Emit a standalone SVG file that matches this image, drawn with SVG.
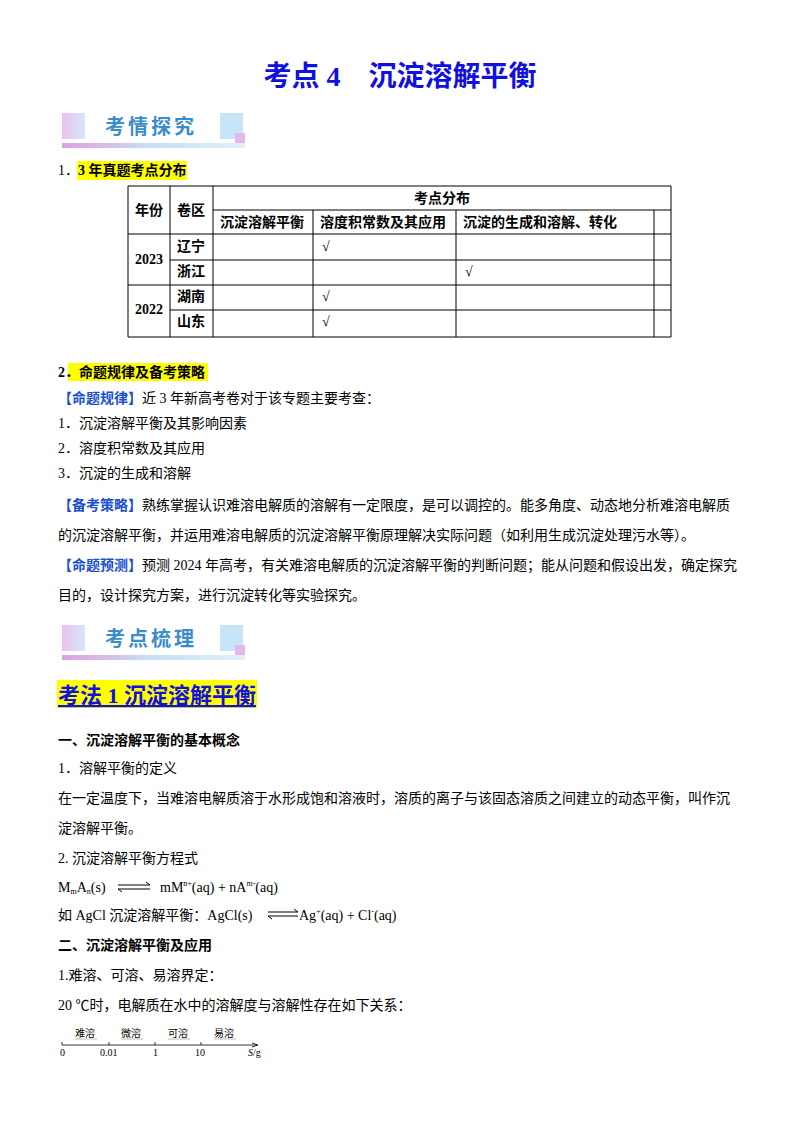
<svg xmlns="http://www.w3.org/2000/svg" width="800" height="1132" viewBox="0 0 800 1132">
<style>
text{font-family:"Liberation Serif","Noto Sans CJK SC",serif;font-size:14px;fill:#000}
.b{font-weight:bold}
.k{font-weight:bold;fill:#1a4fd0}
.tl line{stroke:#000;stroke-width:1}
.ban{font-family:"Noto Sans CJK SC",sans-serif;font-weight:bold;font-size:20px;fill:#3a8dc8;letter-spacing:3px}
</style>
<defs>
<linearGradient id="g1" x1="0" x2="1"><stop offset="0" stop-color="#e8b0e8"/><stop offset="1" stop-color="#c8e4f8"/></linearGradient>
<linearGradient id="g2" x1="0" x2="1"><stop offset="0" stop-color="#e0a0e0"/><stop offset="0.5" stop-color="#c8e0f4"/><stop offset="1" stop-color="#e0f0fa"/></linearGradient>
<g id="banner">
<rect x="0" y="0" width="23" height="26" fill="url(#g1)" opacity="0.8"/>
<rect x="158" y="0" width="23" height="26" fill="#c8e4f8"/>
<rect x="173" y="20" width="10" height="10" fill="#e8b8ec"/>
<rect x="0" y="30" width="183" height="5" fill="url(#g2)"/>
</g>
</defs>
<text x="400" y="86" text-anchor="middle" class="b" style="font-size:28px;fill:#1010e0">考点 4　沉淀溶解平衡</text>
<use href="#banner" x="62" y="113"/>
<text x="105" y="134" class="ban">考情探究</text>
<text x="58" y="175">1．</text>
<rect x="77" y="161" width="110" height="19" fill="#ffff00"/>
<text x="78" y="175" class="b">3 年真题考点分布</text>
<g class="tl">
<line x1="128" y1="186" x2="671" y2="186"/><line x1="213" y1="210" x2="671" y2="210"/>
<line x1="128" y1="234" x2="671" y2="234"/><line x1="170" y1="260" x2="671" y2="260"/>
<line x1="128" y1="285" x2="671" y2="285"/><line x1="170" y1="310" x2="671" y2="310"/>
<line x1="128" y1="337" x2="671" y2="337"/>
<line x1="128" y1="186" x2="128" y2="337"/><line x1="170" y1="186" x2="170" y2="337"/>
<line x1="213" y1="186" x2="213" y2="337"/><line x1="313" y1="210" x2="313" y2="337"/>
<line x1="456" y1="210" x2="456" y2="337"/><line x1="654" y1="210" x2="654" y2="337"/>
<line x1="671" y1="186" x2="671" y2="337"/>
</g>
<g>
<text x="135" y="215" class="b">年份</text><text x="177" y="215" class="b">卷区</text>
<text x="442" y="203" text-anchor="middle" class="b">考点分布</text>
<text x="220" y="227" class="b">沉淀溶解平衡</text><text x="320" y="227" class="b">溶度积常数及其应用</text><text x="463" y="227" class="b">沉淀的生成和溶解、转化</text>
<text x="135" y="264" class="b">2023</text><text x="135" y="314" class="b">2022</text>
<text x="177" y="251" class="b">辽宁</text><text x="177" y="276" class="b">浙江</text><text x="177" y="301" class="b">湖南</text><text x="177" y="326" class="b">山东</text>
<text x="322" y="251" class="b">√</text><text x="465" y="276" class="b">√</text><text x="322" y="301" class="b">√</text><text x="322" y="326" class="b">√</text>
</g>
<rect x="68" y="363" width="140" height="18" fill="#ffff00"/>
<text x="58" y="377" class="b">2．命题规律及备考策略</text>
<text x="58" y="403"><tspan class="k">【命题规律】</tspan>近 3 年新高考卷对于该专题主要考查：</text>
<text x="58" y="428">1．沉淀溶解平衡及其影响因素</text>
<text x="58" y="453">2．溶度积常数及其应用</text>
<text x="58" y="478">3．沉淀的生成和溶解</text>
<text x="58" y="510"><tspan class="k">【备考策略】</tspan>熟练掌握认识难溶电解质的溶解有一定限度，是可以调控的。能多角度、动态地分析难溶电解质</text>
<text x="58" y="540">的沉淀溶解平衡，并运用难溶电解质的沉淀溶解平衡原理解决实际问题（如利用生成沉淀处理污水等）。</text>
<text x="58" y="570"><tspan class="k">【命题预测】</tspan>预测 2024 年高考，有关难溶电解质的沉淀溶解平衡的判断问题；能从问题和假设出发，确定探究</text>
<text x="58" y="600">目的，设计探究方案，进行沉淀转化等实验探究。</text>
<use href="#banner" x="62" y="625"/>
<text x="105" y="646" class="ban">考点梳理</text>
<rect x="57" y="680" width="200" height="28" fill="#ffff00"/>
<text x="58" y="703" class="b" style="font-size:22px;fill:#1010e0;text-decoration:underline">考法 1  沉淀溶解平衡</text>
<text x="58" y="745" class="b">一、沉淀溶解平衡的基本概念</text>
<text x="58" y="773">1．溶解平衡的定义</text>
<text x="58" y="803">在一定温度下，当难溶电解质溶于水形成饱和溶液时，溶质的离子与该固态溶质之间建立的动态平衡，叫作沉</text>
<text x="58" y="833">淀溶解平衡。</text>
<text x="58" y="863">2. 沉淀溶解平衡方程式</text>
<text x="58" y="892">M<tspan font-size="8" dy="2">m</tspan><tspan dy="-2">A</tspan><tspan font-size="8" dy="2">n</tspan><tspan dy="-2">(s)</tspan></text>
<g stroke="#000" stroke-width="1" fill="none">
<path d="M118 885 H150 M146 882 L150 885"/><path d="M118 889 H150 M122 892 L118 889"/>
<path d="M268 912 H298 M294 909 L298 912"/><path d="M268 916 H298 M272 919 L268 916"/>
</g>
<text x="160" y="892">mM<tspan font-size="8" dy="-6">n+</tspan><tspan dy="6">(aq) + nA</tspan><tspan font-size="8" dy="-6">m-</tspan><tspan dy="6">(aq)</tspan></text>
<text x="58" y="920">如 AgCl 沉淀溶解平衡：AgCl(s)</text>
<text x="299" y="920">Ag<tspan font-size="8" dy="-6">+</tspan><tspan dy="6">(aq) + Cl</tspan><tspan font-size="8" dy="-6">-</tspan><tspan dy="6">(aq)</tspan></text>
<text x="58" y="950" class="b">二、沉淀溶解平衡及应用</text>
<text x="58" y="980">1.难溶、可溶、易溶界定：</text>
<text x="58" y="1010">20 ℃时，电解质在水中的溶解度与溶解性存在如下关系：</text>
<g stroke="#000" stroke-width="0.8" fill="none">
<path d="M62 1045 H257"/><path d="M252 1043 L258 1045 L252 1047"/>
<path d="M62 1042 V1045 M109 1042 V1045 M155 1042 V1045 M201 1042 V1045"/>
<path d="M75 1039 H97 M121 1039 H143 M168 1039 H190 M214 1039 H236" stroke="#aaa"/>
</g>
<g>
<text x="75" y="1037" style="font-size:10px">难溶</text><text x="121" y="1037" style="font-size:10px">微溶</text>
<text x="168" y="1037" style="font-size:10px">可溶</text><text x="214" y="1037" style="font-size:10px">易溶</text>
<text x="60" y="1056" style="font-size:10px">0</text><text x="100" y="1056" style="font-size:10px">0.01</text>
<text x="153" y="1056" style="font-size:10px">1</text><text x="195" y="1056" style="font-size:10px">10</text>
<text x="248" y="1056" style="font-size:10px"><tspan font-style="italic">S</tspan>/g</text>
</g>
</svg>
